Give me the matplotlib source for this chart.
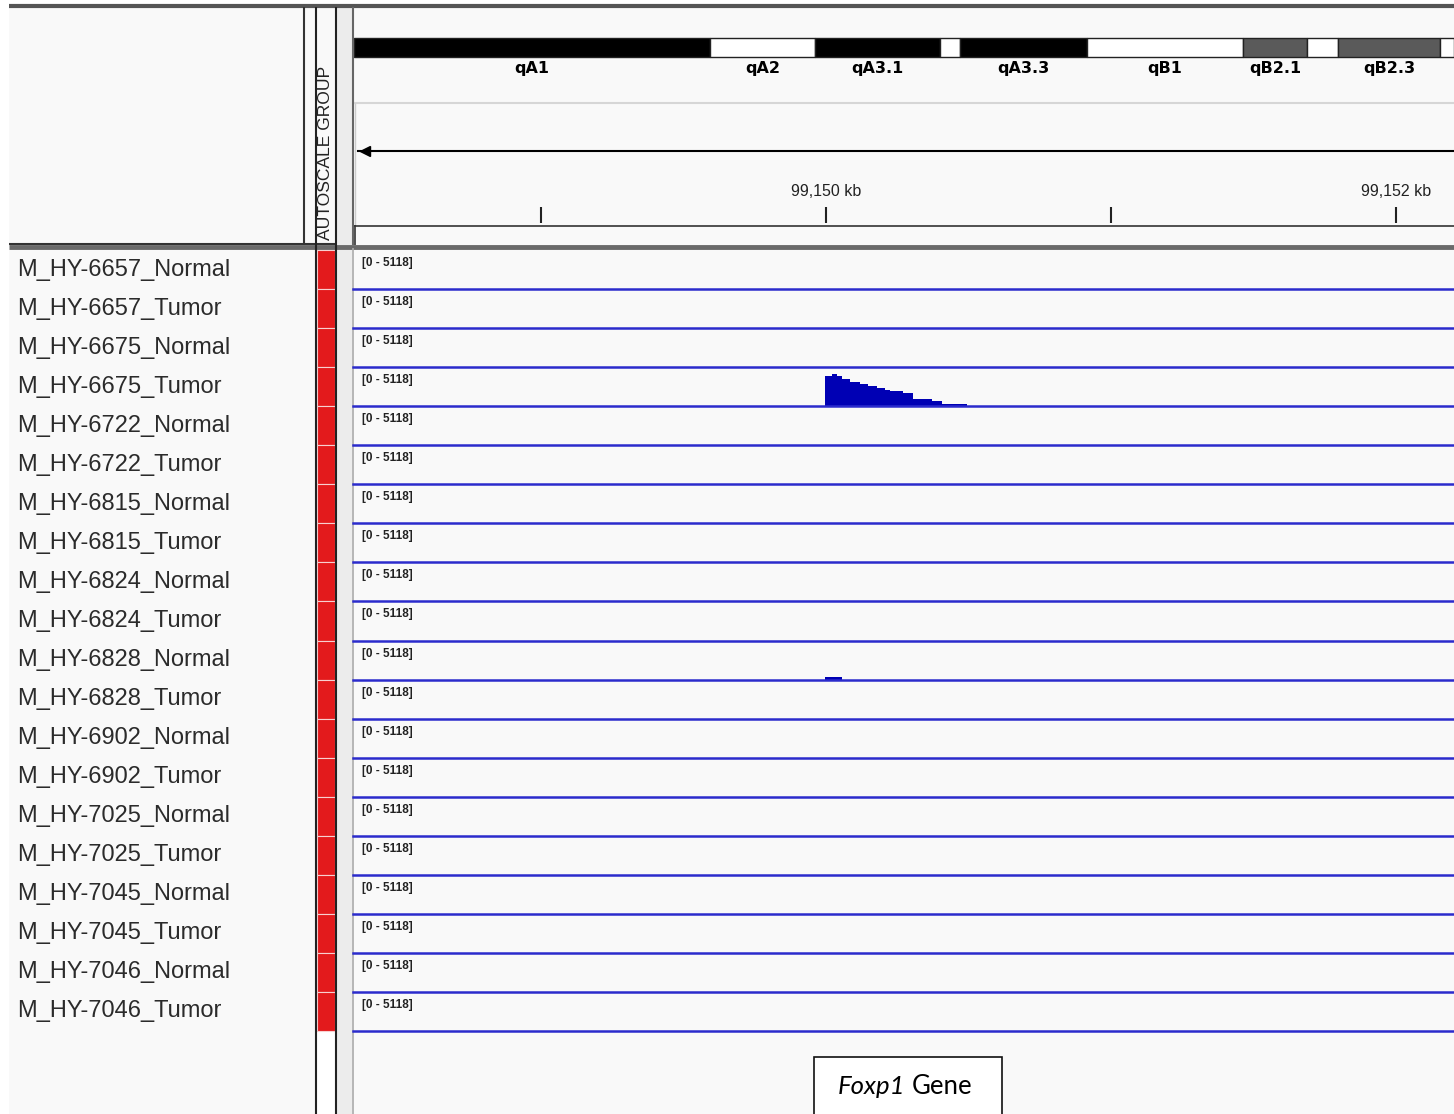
import matplotlib
matplotlib.use("Agg")
import matplotlib.pyplot as plt
from matplotlib.patches import Rectangle

W, H = 1454, 1114

# samples shown as tracks
samples = [
    "M_HY-6657_Normal", "M_HY-6657_Tumor",
    "M_HY-6675_Normal", "M_HY-6675_Tumor",
    "M_HY-6722_Normal", "M_HY-6722_Tumor",
    "M_HY-6815_Normal", "M_HY-6815_Tumor",
    "M_HY-6824_Normal", "M_HY-6824_Tumor",
    "M_HY-6828_Normal", "M_HY-6828_Tumor",
    "M_HY-6902_Normal", "M_HY-6902_Tumor",
    "M_HY-7025_Normal", "M_HY-7025_Tumor",
    "M_HY-7045_Normal", "M_HY-7045_Tumor",
    "M_HY-7046_Normal", "M_HY-7046_Tumor",
]
data_range = "[0 - 5118]"
autoscale_max = 5118

# coverage (kb positions, read depth) for the samples that have any
cov_6675_tumor_edges = [99149.996, 99150.021, 99150.039, 99150.056, 99150.084,
                        99150.119, 99150.147, 99150.179, 99150.207, 99150.225,
                        99150.270, 99150.305, 99150.372, 99150.407, 99150.495]
cov_6675_tumor_vals = [4850, 5118, 4840, 4320, 3890, 3520, 3200, 2830,
                       2560, 2400, 2030, 1230, 850, 430]
cov_6828_normal_edges = [99149.996, 99150.056]
cov_6828_normal_vals = [420]
coverage = {
    "M_HY-6675_Tumor": (cov_6675_tumor_edges, cov_6675_tumor_vals),
    "M_HY-6828_Normal": (cov_6828_normal_edges, cov_6828_normal_vals),
}

# visible window (kb) and ruler
view_start, view_end = 99148.340, 99152.204
ruler_ticks = [99149, 99150, 99151, 99152]
ruler_labels = {99150: "99,150 kb", 99152: "99,152 kb"}
gene_start = 99148.357
gene_name = "Foxp1"

# chromosome ideogram (visible part, ideogram units)
band_names = ["qA1", "qA2", "qA3.1", "qA3.2", "qA3.3", "qB1",
              "qB2.1", "qB2.2", "qB2.3", "qB3"]
band_edges = [0, 356, 461, 586, 606, 733, 889, 953, 984, 1086, 1100]
band_stain = ["gpos100", "gneg", "gpos100", "gneg", "gpos100", "gneg",
              "gpos75", "gneg", "gpos75", "gneg"]
stain_color = {"gpos100": "#000000", "gpos75": "#5a5a5a", "gneg": "#ffffff"}

fig = plt.figure(figsize=(W / 100, H / 100), dpi=100)
fig.patch.set_facecolor("white")


def px_axes(x0, y0, x1, y1):
    return fig.add_axes([x0 / W, 1 - y1 / H, (x1 - x0) / W, (y1 - y0) / H])


# ---- window chrome in pixel coordinates
frame = px_axes(0, 0, W, H)
frame.set_xlim(0, W)
frame.set_ylim(H, 0)
frame.axis("off")

track_top = 250
track_h = 39.05
tracks_bottom = track_top + len(samples) * track_h

frame.add_patch(Rectangle((9, 5), W - 9, H - 5, facecolor="#f9f9f9", edgecolor="none"))
frame.add_patch(Rectangle((337, 7), 15, H - 7, facecolor="#ececec", edgecolor="none"))
frame.add_patch(Rectangle((316, tracks_bottom), 20, H - tracks_bottom,
                          facecolor="white", edgecolor="none"))
frame.hlines(6, 9, W, color="#555555", lw=3)
frame.vlines(304, 7, 244, color="#333333", lw=1.5)
frame.hlines(243.5, 9, 336, color="#333333", lw=1.5)
frame.hlines(246.5, 9, W, color="#6a6a6a", lw=3.5)
frame.vlines([316, 335.5], 7, H, color="#222222", lw=1.5)
frame.vlines(352.5, 7, 245, color="#666666", lw=1.5)
frame.vlines(352.5, 248, H, color="#aaaaaa", lw=1.2)
frame.hlines(103, 354, W, color="#d6d6d6", lw=1.5)
frame.vlines(354.5, 103, 225, color="#cccccc", lw=1)
frame.hlines(225.5, 354, W, color="#333333", lw=1.2)
frame.vlines(354.5, 225, 245, color="#333333", lw=1.2)

frame.text(326, 240, "AUTOSCALE GROUP", rotation=90, ha="center", va="bottom",
           fontsize=12.6, family="Liberation Sans", color="#222222")

for i, name in enumerate(samples):
    top = track_top + i * track_h
    frame.add_patch(Rectangle((317, top), 18, track_h, facecolor="#e31a1c",
                              edgecolor="#f7d0d0", lw=0.8))
    frame.text(17, top + track_h / 2, name, ha="left", va="center",
               fontsize=17, family="Liberation Sans", color="#2b2b2b")

    ax = px_axes(353, top, W, top + track_h)
    ax.set_xlim(view_start, view_end)
    ax.set_ylim(0, autoscale_max / 0.82)
    ax.axis("off")
    if name in coverage:
        edges, vals = coverage[name]
        ax.stairs(vals, edges, fill=True, color="#0000b4", baseline=0)
    ax.axhline(0, color="#2b2bcc", lw=1.8, clip_on=False)
    ax.annotate(data_range, xy=(0, 1), xycoords="axes fraction",
                xytext=(9, -13), textcoords="offset pixels",
                ha="left", va="center", fontsize=8.5, fontweight="bold",
                color="#222222", family="Liberation Sans")

# ---- ideogram
ideo = px_axes(354, 30, W, 82)
ideo.set_xlim(0, band_edges[-1])
ideo.set_ylim(82, 30)
ideo.axis("off")
starts = band_edges[:-1]
widths = [b - a for a, b in zip(band_edges[:-1], band_edges[1:])]
ideo.bar(starts, 19, width=widths, bottom=37.5, align="edge",
         color=[stain_color[s] for s in band_stain], edgecolor="#222222", lw=1)
for nm, a, w in zip(band_names, starts, widths):
    if w > 50 and a + w < band_edges[-1]:
        ideo.text(a + w / 2, 68, nm, ha="center", va="center", fontsize=11.5,
                  fontweight="bold", family="DejaVu Sans", color="#000000")

# ---- ruler and gene
ruler = px_axes(353, 103, W, 226)
ruler.set_xlim(view_start, view_end)
ruler.set_ylim(226, 103)
ruler.axis("off")
ruler.vlines(ruler_ticks, 207, 223, color="#222222", lw=1.5)
for t, lab in ruler_labels.items():
    ruler.text(t, 191, lab, ha="center", va="center", fontsize=11.5,
               family="Liberation Sans", color="#222222")
ruler.plot([gene_start, view_end], [151, 151], color="black", lw=1.5)
ruler.plot([gene_start + 0.025], [151], marker="<", color="black", markersize=7)

# ---- gene label box
frame.add_patch(Rectangle((814, 1057), 188, 80, facecolor="white",
                          edgecolor="#111111", lw=1.2))
frame.text(905, 1087, gene_name, ha="right", va="center", fontsize=18.5,
           style="italic", family="Lato", color="black")
frame.text(912, 1087, "Gene", ha="left", va="center", fontsize=18.5,
           family="Lato", color="black")

fig.savefig("out.png", dpi=100)
